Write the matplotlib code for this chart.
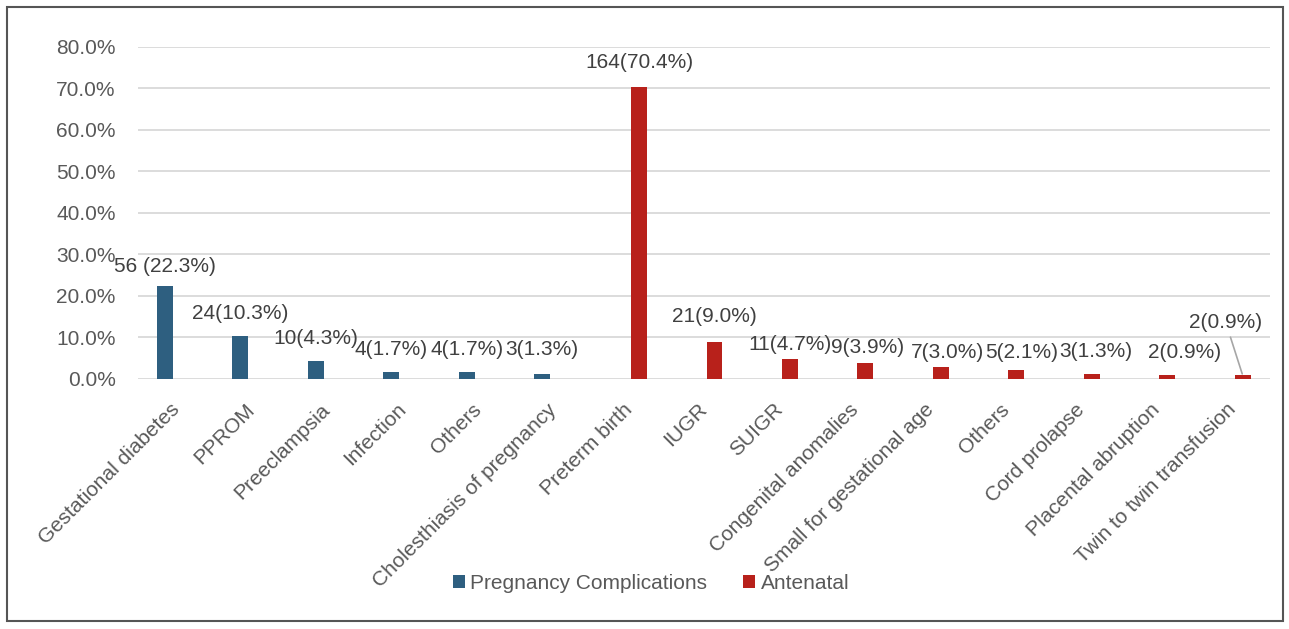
import numpy as np
import matplotlib
matplotlib.use("Agg")
from matplotlib import pyplot as plt
from matplotlib.patches import Rectangle
from matplotlib.transforms import ScaledTranslation

plt.rcParams['font.family'] = ['Liberation Sans', 'DejaVu Sans']

# data
categories = ['Gestational diabetes', 'PPROM', 'Preeclampsia', 'Infection', 'Others',
              'Cholesthiasis of pregnancy', 'Preterm birth', 'IUGR', 'SUIGR',
              'Congenital anomalies', 'Small for gestational age', 'Others',
              'Cord prolapse', 'Placental abruption', 'Twin to twin transfusion']
preg_pct = [22.3, 10.3, 4.3, 1.7, 1.7, 1.3, 0, 0, 0, 0, 0, 0, 0, 0, 0]
ante_pct = [0, 0, 0, 0, 0, 0, 70.4, 9.0, 4.7, 3.9, 3.0, 2.1, 1.3, 0.9, 0.9]
preg_labels = ['56 (22.3%)', '24(10.3%)', '10(4.3%)', '4(1.7%)', '4(1.7%)', '3(1.3%)']
ante_labels = ['164(70.4%)', '21(9.0%)', '11(4.7%)', '9(3.9%)', '7(3.0%)', '5(2.1%)',
               '3(1.3%)', '2(0.9%)', '2(0.9%)']
yticks = [0, 10, 20, 30, 40, 50, 60, 70, 80]

# label nudges in pixels (dx, dy) -- layout only
preg_off = [(0, 20), (0, 23), (0, 23), (0, 22), (0, 22), (0, 24)]
ante_off = [(0, 24), (0, 25), (0, 15), (2, 15), (7, 14), (5, 18), (4, 22), (17, 23), (-17, 53)]

blue = '#2e5f80'
red = '#b8211b'
grey = '#595959'
fs = 15

fig = plt.figure(figsize=(12.89, 6.29), dpi=100)
ax = fig.add_axes([0.107, 0.3975, 0.878, 0.528])

x = np.arange(len(categories))
w = 0.21
off = 0.142
b1 = ax.bar(x - off, preg_pct, w, color=blue, label='Pregnancy Complications', zorder=3)
b2 = ax.bar(x + off, ante_pct, w, color=red, label='Antenatal', zorder=3)

for i, lab in enumerate(preg_labels):
    ax.annotate(lab, (x[i] - off, preg_pct[i]), xytext=preg_off[i], textcoords='offset pixels',
                ha='center', va='center', fontsize=fs, color='#404040')

n0 = len(preg_labels)
for j, lab in enumerate(ante_labels):
    i = n0 + j
    kw = {}
    if j == len(ante_labels) - 1:
        kw['arrowprops'] = dict(arrowstyle='-', color='#a6a6a6', lw=1.2, shrinkA=2, shrinkB=1)
    ax.annotate(lab, (x[i] + off, ante_pct[i]), xytext=ante_off[j], textcoords='offset pixels',
                ha='center', va='center', fontsize=fs, color='#404040', **kw)

ax.set_xlim(-0.5, len(categories) - 0.5)
ax.set_ylim(0, 80)
ax.set_yticks(yticks)
ax.set_yticklabels(['%.1f%%' % v for v in yticks])
ax.set_xticks(x)
ax.set_xticklabels(categories, rotation=45, ha='right', rotation_mode='anchor')
ax.tick_params(axis='both', length=0, labelsize=fs, colors=grey)
ax.tick_params(axis='y', pad=16)
ax.tick_params(axis='x', pad=15)
# nudge category labels a bit to the left
shift = ScaledTranslation(-6 / 100, 0, fig.dpi_scale_trans)
for t in ax.get_xticklabels():
    t.set_transform(t.get_transform() + shift)
ax.grid(axis='y', color='#d9d9d9', lw=1.3, zorder=0)
for s in ax.spines.values():
    s.set_visible(False)

fig.legend(handles=[b1, b2], loc='center', bbox_to_anchor=(0.505, 0.073), ncol=2,
           frameon=False, fontsize=fs, handlelength=0.6, handleheight=0.6,
           handletextpad=0.25, columnspacing=1.7, labelcolor=grey)

fig.patches.append(Rectangle((7 / 1289, 8 / 629), 1276 / 1289, 614 / 629, transform=fig.transFigure,
                             fill=False, edgecolor='#555555', lw=1.5))

fig.savefig('out.png', dpi=100)
